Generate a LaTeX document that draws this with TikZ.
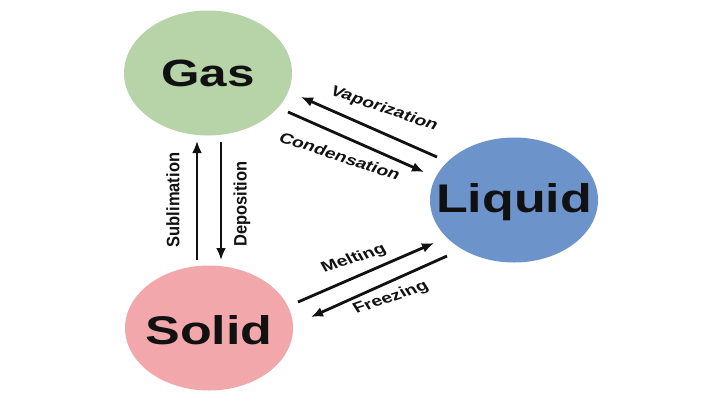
\documentclass[tikz,border=0pt]{standalone}
\usepackage{fontspec}
\setmainfont{Liberation Sans}
\usetikzlibrary{arrows.meta,shapes.geometric}
\usepackage{xcolor}
\definecolor{gasgreen}{RGB}{183,211,168}
\definecolor{liquidblue}{RGB}{108,148,203}
\definecolor{solidpink}{RGB}{242,167,170}
\definecolor{inkdark}{RGB}{17,17,17}

\tikzset{
  phase/.style={ellipse, minimum width=168pt, minimum height=125pt, inner sep=0pt},
  phasetext/.style={font=\fontsize{40}{44}\selectfont\bfseries, text=inkdark, xscale=1.3},
  change/.style={draw=inkdark, line width=2.8pt, -{Latex[length=12pt,width=10pt]}},
  changetext/.style={font=\fontsize{14.5}{16}\selectfont\bfseries, text=inkdark, inner sep=1pt, xscale=1.35},
  risetext/.style={font=\fontsize{15}{17}\selectfont\bfseries, text=inkdark, inner sep=1pt, rotate=90, xscale=1.1, yscale=1.2}
}

\begin{document}
\begin{tikzpicture}[x=1pt,y=-1pt]

  % ── CANVAS ────────────────────────────────────────────────────────────────
  \fill[white] (0,0) rectangle (720,405);
  \useasboundingbox (0,0) rectangle (720,405);

  % ── PHASES ────────────────────────────────────────────────────────────────
  \node[phase, fill=gasgreen]   (gas)    at (208,73)  {};
  \node[phase, fill=liquidblue] (liquid) at (514,200) {};
  \node[phase, fill=solidpink]  (solid)  at (209,328) {};

  \node[phasetext, font=\fontsize{38}{42}\selectfont\bfseries] (gastext) at (gas)    {Gas};
  \node[phasetext] (liquidtext) at (514,202) {Liquid};
  \node[phasetext] (solidtext)  at (209,330) {Solid};

  % ── ARROW ENDS ────────────────────────────────────────────────────────────
  \coordinate (vapstart)  at (437,157);
  \coordinate (vapend)    at (301,97);
  \coordinate (constart)  at (288,112);
  \coordinate (conend)    at (424,172);

  \coordinate (meltstart) at (298,302);
  \coordinate (meltend)   at (434,243);
  \coordinate (frzstart)  at (447,256);
  \coordinate (frzend)    at (311,317);

  \coordinate (sublstart) at (197,260);
  \coordinate (sublend)   at (197,141);
  \coordinate (depstart)  at (221,142);
  \coordinate (depend)    at (221,260);

  % ── GAS <-> LIQUID ────────────────────────────────────────────────────────
  \draw[change] (vapstart) -- (vapend);
  \draw[change] (constart) -- (conend);
  \node[changetext, rotate=-25] (vaplabel) at (384,109) {Vaporization};
  \node[changetext, rotate=-24] (conlabel) at (340,156) {Condensation};

  % ── SOLID <-> LIQUID ──────────────────────────────────────────────────────
  \draw[change] (meltstart) -- (meltend);
  \draw[change] (frzstart) -- (frzend);
  \node[changetext, rotate=23] (meltlabel) at (354,259) {Melting};
  \node[changetext, rotate=25] (frzlabel)  at (391,298) {Freezing};

  % ── SOLID <-> GAS ─────────────────────────────────────────────────────────
  \draw[change] (sublstart) -- (sublend);
  \draw[change] (depstart) -- (depend);
  \node[risetext] (subllabel) at (173,200) {Sublimation};
  \node[risetext] (deplabel)  at (242,204) {Deposition};

\end{tikzpicture}
\end{document}
